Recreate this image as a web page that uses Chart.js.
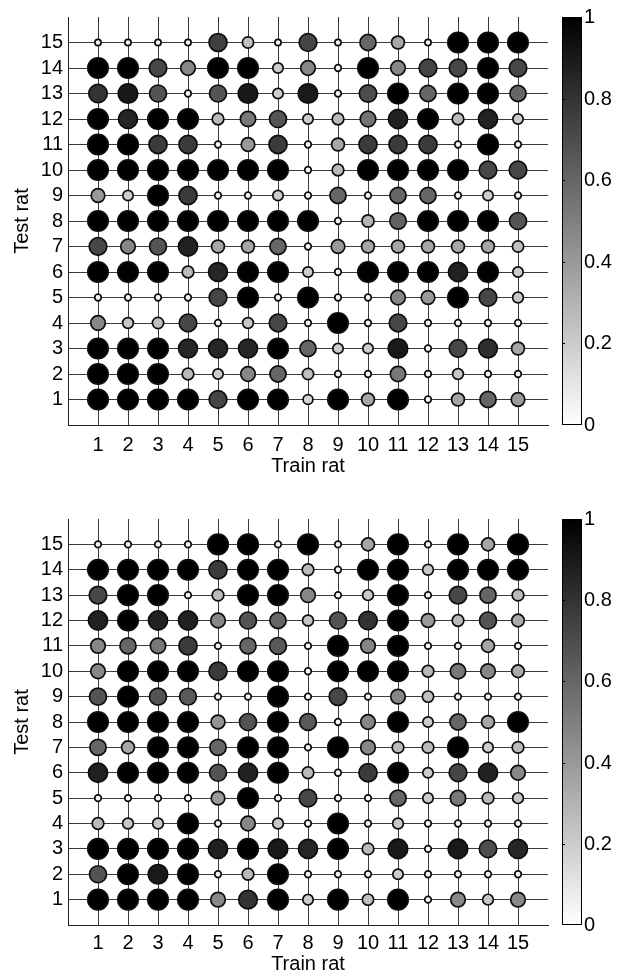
<!DOCTYPE html>
<html>
<head>
<meta charset="utf-8">
<script src="https://cdn.jsdelivr.net/npm/chart.js@4.4.1/dist/chart.umd.min.js"></script>
<style>
  body { margin: 0; background: #fff; }
  #wrap { position: relative; width: 621px; height: 977px; }
  canvas { position: absolute; left: 0; }
</style>
</head>
<body>
<div id="wrap">
  <canvas id="topChart" width="621" height="488" style="top:0"></canvas>
  <canvas id="bottomChart" width="621" height="477" style="top:500px"></canvas>
</div>
<script>
// =====================
// Data (rows = test rat 1..15, columns = train rat 1..15)
// =====================
const trainRats = [1, 2, 3, 4, 5, 6, 7, 8, 9, 10, 11, 12, 13, 14, 15];
const testRats = [1, 2, 3, 4, 5, 6, 7, 8, 9, 10, 11, 12, 13, 14, 15];
const cbTicks = [0, 0.2, 0.4, 0.6, 0.8, 1];
const cbLabels = ['0', '0.2', '0.4', '0.6', '0.8', '1'];

const topRows = [
  [1, 1, 1, 1, 0.73, 1, 1, 0.17, 1, 0.35, 1, 0.03, 0.35, 0.6, 0.4],
  [1, 1, 1, 0.27, 0.2, 0.47, 0.6, 0.25, 0.03, 0.03, 0.53, 0.03, 0.22, 0.03, 0.03],
  [1, 1, 1, 0.85, 0.85, 0.85, 1, 0.6, 0.2, 0.2, 0.9, 0.03, 0.72, 0.82, 0.35],
  [0.47, 0.22, 0.25, 0.72, 0.03, 0.22, 0.72, 0.03, 1, 0.03, 0.72, 0.03, 0.03, 0.03, 0.03],
  [0.03, 0.03, 0.03, 0.03, 0.73, 1, 0.03, 1, 0.03, 0.03, 0.47, 0.4, 1, 0.72, 0.22],
  [1, 1, 1, 0.27, 0.85, 1, 1, 0.2, 0.03, 1, 1, 1, 0.87, 1, 0.2],
  [0.72, 0.47, 0.67, 0.87, 0.35, 0.35, 0.6, 0.03, 0.4, 0.35, 0.35, 0.35, 0.35, 0.35, 0.25],
  [1, 1, 1, 1, 1, 1, 1, 1, 0.03, 0.3, 0.62, 1, 1, 1, 0.67],
  [0.4, 0.2, 1, 0.77, 0.03, 0.03, 0.2, 0.03, 0.6, 0.03, 0.6, 0.6, 0.03, 0.2, 0.03],
  [1, 1, 1, 1, 1, 1, 1, 0.03, 0.27, 1, 1, 1, 1, 0.72, 0.72],
  [1, 1, 0.77, 0.77, 0.03, 0.4, 0.77, 0.03, 0.35, 0.77, 0.77, 0.77, 0.03, 1, 0.03],
  [1, 0.85, 1, 1, 0.27, 0.53, 0.67, 0.2, 0.27, 0.55, 0.87, 1, 0.27, 0.87, 0.2],
  [0.8, 0.9, 0.67, 0.03, 0.67, 0.9, 0.2, 0.9, 0.03, 0.7, 1, 0.6, 1, 1, 0.6],
  [1, 1, 0.72, 0.47, 1, 1, 0.2, 0.47, 0.03, 1, 0.47, 0.73, 0.72, 1, 0.72],
  [0.02, 0.02, 0.02, 0.02, 0.75, 0.25, 0.02, 0.73, 0.02, 0.6, 0.35, 0.02, 1, 1, 1]
];

const bottomRows = [
  [1, 1, 1, 1, 0.47, 0.8, 1, 0.2, 1, 0.25, 1, 0.03, 0.47, 0.22, 0.47],
  [0.67, 1, 0.9, 1, 0.03, 0.27, 1, 0.03, 0.03, 0.03, 0.2, 0.03, 0.03, 0.03, 0.03],
  [1, 1, 1, 1, 0.87, 1, 0.9, 0.85, 1, 0.27, 0.9, 0.03, 0.9, 0.7, 0.85],
  [0.27, 0.22, 0.22, 1, 0.03, 0.47, 0.22, 0.03, 1, 0.03, 0.22, 0.03, 0.03, 0.03, 0.03],
  [0.03, 0.03, 0.03, 0.03, 0.4, 1, 0.03, 0.72, 0.03, 0.03, 0.6, 0.2, 0.53, 0.27, 0.22],
  [0.87, 1, 1, 1, 0.67, 0.87, 1, 0.27, 0.03, 0.77, 1, 0.2, 0.73, 0.87, 0.47],
  [0.6, 0.35, 1, 1, 0.6, 1, 1, 0.03, 1, 0.47, 0.27, 0.27, 1, 0.2, 0.27],
  [1, 1, 1, 1, 0.42, 0.67, 1, 0.65, 0.03, 0.47, 1, 0.2, 0.6, 0.35, 1],
  [0.67, 1, 0.67, 0.65, 0.03, 0.03, 1, 0.03, 0.72, 0.03, 0.47, 0.25, 0.03, 0.03, 0.03],
  [0.47, 1, 1, 1, 0.77, 1, 1, 0.03, 1, 1, 1, 0.27, 0.53, 0.47, 0.33],
  [0.47, 0.6, 0.53, 0.77, 0.03, 0.6, 0.65, 0.03, 1, 0.47, 1, 0.03, 0.03, 0.35, 0.03],
  [0.87, 1, 0.87, 0.87, 0.47, 0.67, 0.6, 0.23, 0.67, 0.8, 1, 0.4, 0.27, 0.67, 0.33],
  [0.72, 1, 1, 0.03, 0.27, 1, 1, 0.47, 0.03, 0.22, 1, 0.03, 0.72, 0.6, 0.27],
  [1, 1, 1, 1, 0.77, 1, 1, 0.27, 0.03, 1, 1, 0.22, 1, 1, 1],
  [0.03, 0.03, 0.03, 0.03, 1, 1, 0.03, 1, 0.03, 0.35, 1, 0.03, 1, 0.35, 1]
];

// =====================
// Helpers
// =====================
const FONT = "'Liberation Sans', Arial, Helvetica, sans-serif";
Chart.defaults.font.family = FONT;
Chart.defaults.color = '#000';

function grayOf(v) {
  const g = Math.round(255 * (1 - v));
  return `rgb(${g},${g},${g})`;
}

// marker area grows linearly with the value
function radiusOf(v) {
  const r0 = 2.8, r1 = 10.2;
  return Math.sqrt(r0 * r0 + v * (r1 * r1 - r0 * r0));
}

function toPoints(rows) {
  const pts = [];
  rows.forEach((row, r) => {
    row.forEach((v, c) => pts.push({ x: trainRats[c], y: testRats[r], v: v }));
  });
  return pts;
}

function gridColor(c) {
  return c.tick && c.tick.value > 0 && c.tick.value < 16 ? '#3a3a3a' : 'rgba(0,0,0,0)';
}

// Colorbar drawn next to the plot, positioned by the hidden 'cb' scale
const colorbar = {
  id: 'colorbar',
  afterDraw(chart) {
    const cb = chart.scales.cb;
    const ctx = chart.ctx;
    const x0 = chart.chartArea.right + 14;
    const w = 20;
    const top = cb.getPixelForValue(1);
    const bottom = cb.getPixelForValue(0);
    ctx.save();
    const grad = ctx.createLinearGradient(0, bottom, 0, top);
    grad.addColorStop(0, '#ffffff');
    grad.addColorStop(1, '#000000');
    ctx.fillStyle = grad;
    ctx.fillRect(x0, top, w, bottom - top);
    ctx.strokeStyle = '#000';
    ctx.lineWidth = 1;
    ctx.strokeRect(x0 + 0.5, top + 0.5, w - 1, bottom - top - 1);
    ctx.font = '20px ' + FONT;
    ctx.fillStyle = '#000';
    ctx.textAlign = 'left';
    ctx.textBaseline = 'middle';
    cbTicks.forEach((t, i) => {
      const y = Math.round(cb.getPixelForValue(t)) + 0.5;
      if (t > 0 && t < 1) {
        ctx.beginPath();
        ctx.moveTo(x0, y);
        ctx.lineTo(x0 + 3, y);
        ctx.stroke();
      }
      ctx.fillText(cbLabels[i], x0 + w + 2, y);
    });
    ctx.restore();
  }
};

function makePanel(canvasId, rows, padTop, xHeight, tickPad, titlePad) {
  return new Chart(document.getElementById(canvasId), {
    type: 'scatter',
    data: {
      datasets: [{
        data: toPoints(rows),
        pointRadius: c => (c.raw ? radiusOf(c.raw.v) : 3),
        pointHoverRadius: c => (c.raw ? radiusOf(c.raw.v) : 3),
        pointBackgroundColor: c => (c.raw ? grayOf(c.raw.v) : '#fff'),
        pointBorderColor: '#0d0d0d',
        pointBorderWidth: 1.7
      }]
    },
    options: {
      responsive: false,
      animation: false,
      devicePixelRatio: 1,
      layout: { padding: { left: 0, top: padTop, right: 73, bottom: 0 } },
      plugins: { legend: { display: false }, tooltip: { enabled: false } },
      scales: {
        x: {
          type: 'linear', min: 0, max: 16,
          afterFit: s => { s.height = xHeight; },
          ticks: {
            stepSize: 1, autoSkip: false, maxRotation: 0, padding: tickPad,
            font: { size: 20 },
            callback: v => (v >= 1 && v <= 15 ? String(trainRats[v - 1]) : '')
          },
          grid: { color: gridColor, drawTicks: false, lineWidth: 1 },
          border: { display: true, color: '#222', width: 1 },
          title: { display: true, text: 'Train rat', font: { size: 20 }, padding: { top: 0, bottom: titlePad } }
        },
        y: {
          type: 'linear', min: 0, max: 16,
          afterFit: s => { s.width = 68; },
          ticks: {
            stepSize: 1, autoSkip: false, padding: 5,
            font: { size: 20 },
            callback: v => (v >= 1 && v <= 15 ? String(testRats[v - 1]) : '')
          },
          grid: { color: gridColor, drawTicks: false, lineWidth: 1 },
          border: { display: true, color: '#222', width: 1 },
          title: { display: true, text: 'Test rat', font: { size: 20 }, padding: { top: 10, bottom: 0 } }
        },
        cb: { type: 'linear', position: 'right', min: 0, max: 1, display: false }
      }
    },
    plugins: [colorbar]
  });
}

makePanel('topChart', topRows, 17, 63, 8, 10);
makePanel('bottomChart', bottomRows, 19, 52, 6, 1);
</script>
</body>
</html>
